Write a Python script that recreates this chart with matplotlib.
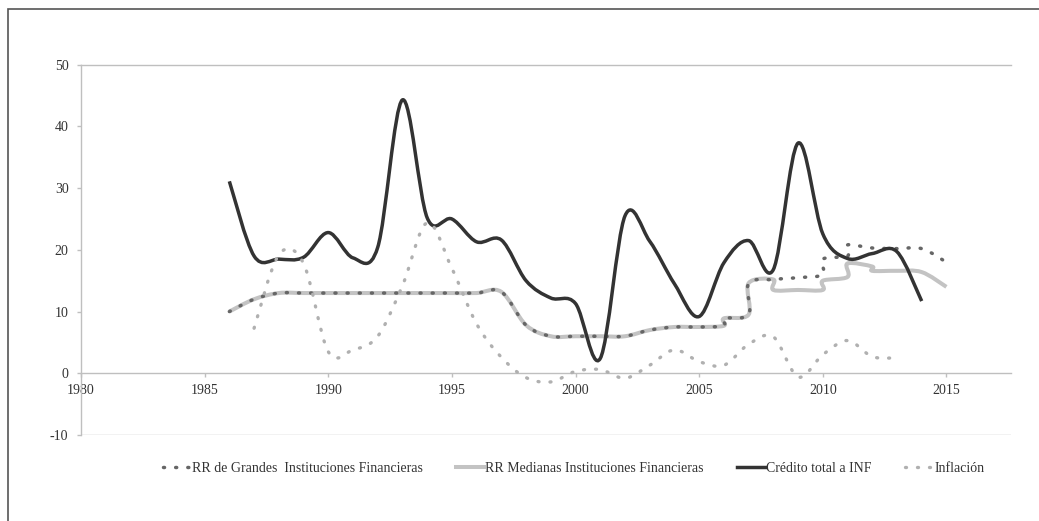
import matplotlib
matplotlib.use("Agg")
import matplotlib.pyplot as plt
import numpy as np
from matplotlib.path import Path
from matplotlib.patches import PathPatch, Rectangle
from matplotlib.lines import Line2D

plt.rcParams['font.family'] = ['Liberation Serif', 'DejaVu Serif']
plt.rcParams['axes.unicode_minus'] = False

# ---------------- data ----------------
years_credito = [1986, 1987, 1988, 1989, 1990, 1991, 1992, 1993, 1994, 1995,
                 1996, 1997, 1998, 1999, 2000, 2001, 2002, 2003, 2004, 2005,
                 2006, 2007, 2008, 2009, 2010, 2011, 2012, 2013, 2014]
credito = [31.1, 19.0, 18.5, 18.8, 22.8, 18.7, 20.4, 44.3, 25.2, 25.0,
           21.3, 21.6, 15.0, 12.2, 11.3, 2.4, 25.5, 21.4, 14.5, 9.2,
           17.9, 21.5, 16.8, 37.3, 22.6, 18.6, 19.4, 19.7, 11.7]

years_inflacion = [1987, 1988, 1989, 1990, 1991, 1992, 1993, 1994, 1995, 1996,
                   1997, 1998, 1999, 2000, 2001, 2002, 2003, 2004, 2005, 2006,
                   2007, 2008, 2009, 2010, 2011, 2012, 2013]
inflacion = [7.3, 19.2, 17.8, 3.5, 3.8, 6.0, 14.2, 24.4, 17.0, 8.0,
             2.6, -0.7, -1.4, 0.3, 0.6, -0.8, 1.3, 3.8, 1.9, 1.3,
             4.7, 5.9, -0.6, 3.0, 5.3, 2.7, 2.5]

years_rr_grandes = [1986, 1987, 1988, 1989, 1990, 1991, 1992, 1993, 1994, 1995,
                    1996, 1997, 1998, 1999, 2000, 2001, 2002, 2003, 2004, 2005,
                    2006, 2006, 2007, 2007, 2008, 2009, 2010, 2010, 2011, 2011,
                    2012, 2013, 2014, 2015]
rr_grandes = [10.0, 12.0, 13.0, 13.0, 13.0, 13.0, 13.0, 13.0, 13.0, 13.0,
              13.0, 13.2, 7.8, 6.0, 6.0, 6.0, 6.0, 7.0, 7.5, 7.5,
              7.7, 8.9, 9.5, 14.6, 15.2, 15.5, 16.0, 18.5, 19.0, 20.8,
              20.3, 20.2, 20.2, 18.0]

years_rr_medianas = [1986, 1987, 1988, 1989, 1990, 1991, 1992, 1993, 1994, 1995,
                     1996, 1997, 1998, 1999, 2000, 2001, 2002, 2003, 2004, 2005,
                     2006, 2006, 2007, 2007, 2008, 2008, 2009, 2010, 2010, 2011,
                     2011, 2012, 2012, 2013, 2014, 2015]
rr_medianas = [10.0, 12.0, 13.0, 13.0, 13.0, 13.0, 13.0, 13.0, 13.0, 13.0,
               13.0, 13.2, 7.8, 6.0, 6.0, 6.0, 6.0, 7.0, 7.5, 7.5,
               7.7, 8.9, 9.5, 14.6, 15.2, 13.5, 13.5, 13.5, 15.0, 15.6,
               17.8, 17.3, 16.6, 16.6, 16.4, 14.0]

labels = ["RR de Grandes  Instituciones Financieras",
          "RR Medianas Instituciones Financieras",
          "Crédito total a INF",
          "Inflación"]

x_ticks = [1980, 1985, 1990, 1995, 2000, 2005, 2010, 2015]
y_ticks = [-10, 0, 10, 20, 30, 40, 50]
x_min, x_max = 1980, 2017.6
y_min, y_max = -10, 50


def smooth_path(xs, ys):
    """Excel-like smoothed line as cubic Bezier path (Catmull-Rom control points)."""
    P = np.column_stack([xs, ys]).astype(float)
    n = len(P)
    ext = np.vstack([P[0], P, P[-1]])
    verts = [P[0]]
    codes = [Path.MOVETO]
    for i in range(n - 1):
        p_prev, p0, p1, p_next = ext[i], ext[i + 1], ext[i + 2], ext[i + 3]
        c1 = p0 + (p1 - p_prev) / 6.0
        c2 = p1 - (p_next - p0) / 6.0
        verts += [c1, c2, p1]
        codes += [Path.CURVE4] * 3
    return Path(verts, codes)


W, H = 1039, 521
fig = plt.figure(figsize=(W / 100, H / 100), dpi=100)
ax = fig.add_axes([81 / W, 1 - 435 / H, (1010.7 - 81) / W, (435 - 64.7) / H])

c_grandes = '#666666'
c_medianas = '#c3c3c3'
c_credito = '#333333'
c_infl = '#b0b0b0'

lw_g, lw_m, lw_c, lw_i = 2.5, 2.9, 2.5, 2.4
dot_g = (0, (0.3, 3.2))
dot_i = (0, (0.3, 3.3))

ax.add_patch(PathPatch(smooth_path(years_rr_medianas, rr_medianas), fill=False,
                       edgecolor=c_medianas, linewidth=lw_m, joinstyle='round',
                       capstyle='butt', zorder=3))
ax.add_patch(PathPatch(smooth_path(years_rr_grandes, rr_grandes), fill=False,
                       edgecolor=c_grandes, linewidth=lw_g, linestyle=dot_g,
                       capstyle='round', zorder=4))
ax.add_patch(PathPatch(smooth_path(years_credito, credito), fill=False,
                       edgecolor=c_credito, linewidth=lw_c, joinstyle='round',
                       capstyle='butt', zorder=5))
ax.add_patch(PathPatch(smooth_path(years_inflacion, inflacion), fill=False,
                       edgecolor=c_infl, linewidth=lw_i, linestyle=dot_i,
                       capstyle='round', zorder=6))

ax.set_xlim(x_min, x_max)
ax.set_ylim(y_min, y_max)
ax.set_xticks(x_ticks)
ax.set_yticks(y_ticks)

spine_c = '#bfbfbf'
ax.spines['right'].set_visible(False)
ax.spines['top'].set_color(spine_c)
ax.spines['left'].set_color(spine_c)
ax.spines['bottom'].set_color(spine_c)
ax.spines['bottom'].set_position(('data', 0))
for s in ['top', 'left', 'bottom']:
    ax.spines[s].set_linewidth(1.0)
ax.axhline(y_min, color=spine_c, linewidth=1.0, zorder=1)

ax.tick_params(axis='both', colors=spine_c, labelcolor='#333333', labelsize=10,
               length=3, width=1.0, direction='out')
ax.tick_params(axis='y', pad=6)
ax.tick_params(axis='x', pad=5)

handles = [
    Line2D([], [], color=c_grandes, lw=lw_g, linestyle=dot_g, dash_capstyle='round'),
    Line2D([], [], color=c_medianas, lw=lw_m),
    Line2D([], [], color=c_credito, lw=lw_c),
    Line2D([], [], color=c_infl, lw=lw_i, linestyle=dot_i, dash_capstyle='round'),
]
fig.legend(handles, labels, loc='center', bbox_to_anchor=(573.5 / W, 1 - 468 / H),
           ncol=4, frameon=False, fontsize=10, handlelength=2.0,
           handletextpad=0.1, columnspacing=2.4, labelcolor='#333333')

# outer chart border (top and left visible, the rest cut off by the image)
fig.add_artist(Rectangle((8 / W, -0.2), 1.5, 1.2 - 9 / H, transform=fig.transFigure,
                         fill=False, edgecolor='#555555', linewidth=1.2))

fig.savefig('out.png', dpi=100, facecolor='white')
